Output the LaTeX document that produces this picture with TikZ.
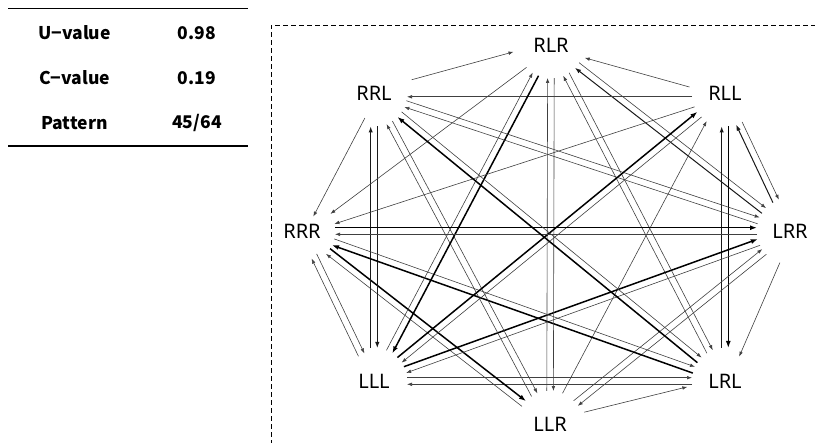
\documentclass[tikz,border=0pt]{standalone}
\usepackage{fontspec}
\setmainfont{Noto Sans}
\newfontfamily\tabfont{Noto Sans CJK JP}
\usetikzlibrary{calc,arrows.meta}

% directed connector, drawn on the left side of the line A -> B
\newcommand\conn[3][]{\draw[edge,#1] ($(#2)!3.3pt!90:(#3)$) -- ($(#3)!3.3pt!-90:(#2)$);}

\begin{document}
\begin{tikzpicture}[x=1pt,y=-1pt,
  state/.style={inner sep=0pt, font=\fontsize{20}{20}\selectfont},
  cell/.style={inner sep=0pt, font=\tabfont\bfseries\fontsize{17.5}{18}\selectfont},
  edge/.style={line width=0.6pt, draw=black!75, -{Latex[length=5pt,width=3.6pt]},
    shorten <=33pt, shorten >=33pt},
  mid/.style={line width=1pt, draw=black!90, -{Latex[length=6pt,width=4.4pt]}},
  heavy/.style={line width=1.5pt, draw=black, -{Latex[length=7pt,width=5pt]}},
  frame/.style={line width=0.9pt, dash pattern=on 5pt off 3pt},
]
\useasboundingbox (0,0) rectangle (815,443);

% summary table
\draw[line width=1pt] (8,8.5) coordinate (tl) -- (248,8.5) coordinate (tr);
\draw[line width=1.8pt] (8,146) coordinate (bl) -- (248,146) coordinate (br);
\node[cell] (u)  at (74.5,33)  {U−value};
\node[cell] (uv) at (197,33)   {0.98};
\node[cell] (c)  at (74.5,78)  {C−value};
\node[cell] (cv) at (197,78)   {0.19};
\node[cell] (p)  at (74.5,123) {Pattern};
\node[cell] (pv) at (197,123)  {45/64};

% dashed frame around the graph
\draw[frame] (271,445) coordinate (f1) -- (271,25) coordinate (f2) -- (817,25) coordinate (f3);

% states
\node[state] (RLR) at (551,45)   {RLR};
\node[state] (RLL) at (725,93.5) {RLL};
\node[state] (LRR) at (790,231)  {LRR};
\node[state] (LRL) at (725,381)  {LRL};
\node[state] (LLR) at (550,424)  {LLR};
\node[state] (LLL) at (374,381)  {LLL};
\node[state] (RRR) at (302,231)  {RRR};
\node[state] (RRL) at (374,93.5) {RRL};

% neighbouring states
\conn[shorten <=40pt, shorten >=38pt]{RRL}{RLR}
\conn[shorten <=36pt, shorten >=36pt]{RLL}{RLR}
\conn[mid]{LRR}{RLL}
\conn{RLL}{LRR}
\conn[shorten >=28pt]{LRR}{LRL}
\conn[shorten <=36pt, shorten >=38pt]{LLR}{LRL}
\conn[shorten <=29pt, shorten >=29pt]{LLL}{RRR}
\conn[shorten <=27pt, shorten >=29pt]{RRR}{LLL}
\conn[shorten <=26pt, shorten >=18pt]{RRL}{RRR}

% two steps apart
\conn[mid]{LRR}{RLR}
\conn{RLR}{LRR}
\conn[heavy]{RLL}{LRL}
\conn[mid]{LRL}{RLL}
\conn{LRR}{LLR}
\conn{LLR}{LRR}
\conn{LLL}{LRL}
\conn{LRL}{LLL}
\conn[heavy]{RRR}{LLR}
\conn{LLR}{RRR}
\conn[mid]{RRL}{LLL}
\conn[mid]{LLL}{RRL}
\conn{RLR}{RRR}
\conn{RLL}{RRL}

% three steps apart
\conn{LRL}{RLR}
\conn{RLR}{LRL}
\conn{LLR}{RLL}
\conn[heavy]{LLL}{LRR}
\conn{LRR}{LLL}
\conn[heavy]{LRL}{RRR}
\conn{RRR}{LRL}
\conn{LLR}{RRL}
\conn{RRL}{LLR}
\conn[heavy]{RLR}{LLL}
\conn{LLL}{RLR}
\conn{RLL}{RRR}
\conn{RRL}{LRR}
\conn{LRR}{RRL}

% opposite states
\conn{RLR}{LLR}
\conn{LLR}{RLR}
\conn[heavy]{LLL}{RLL}
\conn{RLL}{LLL}
\conn[heavy]{RRR}{LRR}
\conn{LRR}{RRR}
\conn[heavy]{LRL}{RRL}
\conn{RRL}{LRL}
\end{tikzpicture}
\end{document}
